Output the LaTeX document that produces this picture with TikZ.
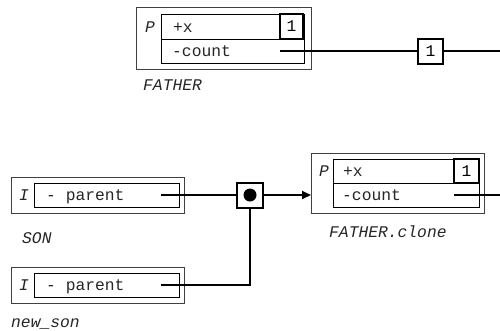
\documentclass[tikz,border=0pt]{standalone}
\usepackage{fontspec}
\setmonofont{Liberation Mono}
\usetikzlibrary{arrows.meta}
\begin{document}
\begin{tikzpicture}[x=1pt,y=-1pt,
  every node/.style={font=\fontsize{16.3}{18}\selectfont\ttfamily},
  outerbox/.style={draw=black!75, line width=1pt, inner sep=0, outer sep=0, anchor=north west, fill=white},
  rowbox/.style={draw=black, line width=1pt, inner sep=0, outer sep=0, anchor=north west},
  onebox/.style={draw=black, line width=2pt, inner sep=0, outer sep=0, fill=white},
  txt/.style={inner sep=0, anchor=base west, text=black!85},
  itxt/.style={inner sep=0, anchor=base west, text=black!85, font=\fontsize{16.3}{18}\selectfont\ttfamily\itshape},
  conn/.style={line width=2pt},
]
\useasboundingbox (0,0) rectangle (500,330);

% FATHER
\node[outerbox, minimum width=175, minimum height=62] (fo) at (136,7) {};
\node[rowbox, minimum width=143, minimum height=25] (fx) at (161,14) {};
\node[rowbox, minimum width=143, minimum height=24] (fc) at (161,39) {};
\node[onebox, minimum width=23, minimum height=25, anchor=north west] (f1) at (280,14) {1};
\node[itxt] (fp) at (145,32) {P};
\node[txt] (fxt) at (173,32) {+x};
\node[txt] (fct) at (172,56) {-count};
\node[itxt] (fl) at (143,90) {FATHER};
\coordinate (fcs) at (280,51);
\node[onebox, minimum width=25, minimum height=25] (n1) at (430.5,51) {1};
\coordinate (fend) at (500,51);
\draw[conn] (fcs) -- (n1.west);
\draw[conn] (n1.east) -- (fend);

% SON
\node[outerbox, minimum width=173, minimum height=36] (so) at (11,177) {};
\node[rowbox, minimum width=145, minimum height=24] (si) at (34,183) {};
\node[itxt] (sI) at (19,200) {I};
\node[txt] (spt) at (46,200) {- parent};
\node[itxt] (sl) at (22,243) {SON};
\coordinate (ss) at (161,195);

% new_son
\node[outerbox, minimum width=173, minimum height=36] (no) at (11,267) {};
\node[rowbox, minimum width=145, minimum height=24] (ni) at (34,273) {};
\node[itxt] (nI) at (19,290) {I};
\node[txt] (npt) at (46,290) {- parent};
\node[itxt] (nl) at (11,327) {new\_son};
\coordinate (ns) at (161,285);

% joint
\node[onebox, minimum width=26, minimum height=25] (j) at (250,195) {};

% FATHER.clone
\node[outerbox, minimum width=173, minimum height=60] (co) at (311,153) {};
\node[rowbox, minimum width=146, minimum height=24] (cx) at (333,159) {};
\node[rowbox, minimum width=146, minimum height=24] (cc) at (333,183) {};
\node[onebox, minimum width=25, minimum height=24, anchor=north west] (c1) at (454,159) {1};
\node[itxt] (cp) at (319,176) {P};
\node[txt] (cxt) at (343,176) {+x};
\node[txt] (cct) at (342,200) {-count};
\node[itxt] (cl) at (329,237) {FATHER.clone};
\coordinate (ccs) at (454,195);
\coordinate (cend) at (500,195);
\draw[conn] (ccs) -- (cend);

% connectors
\draw[conn] (ss) -- (j.west);
\draw[conn] (ns) -| (j.south);
\draw[conn, -{Triangle[length=9pt,width=8pt]}] (j.east) -- (co.west|-j.east);
\fill (j.center) circle (6.5);
\end{tikzpicture}
\end{document}
